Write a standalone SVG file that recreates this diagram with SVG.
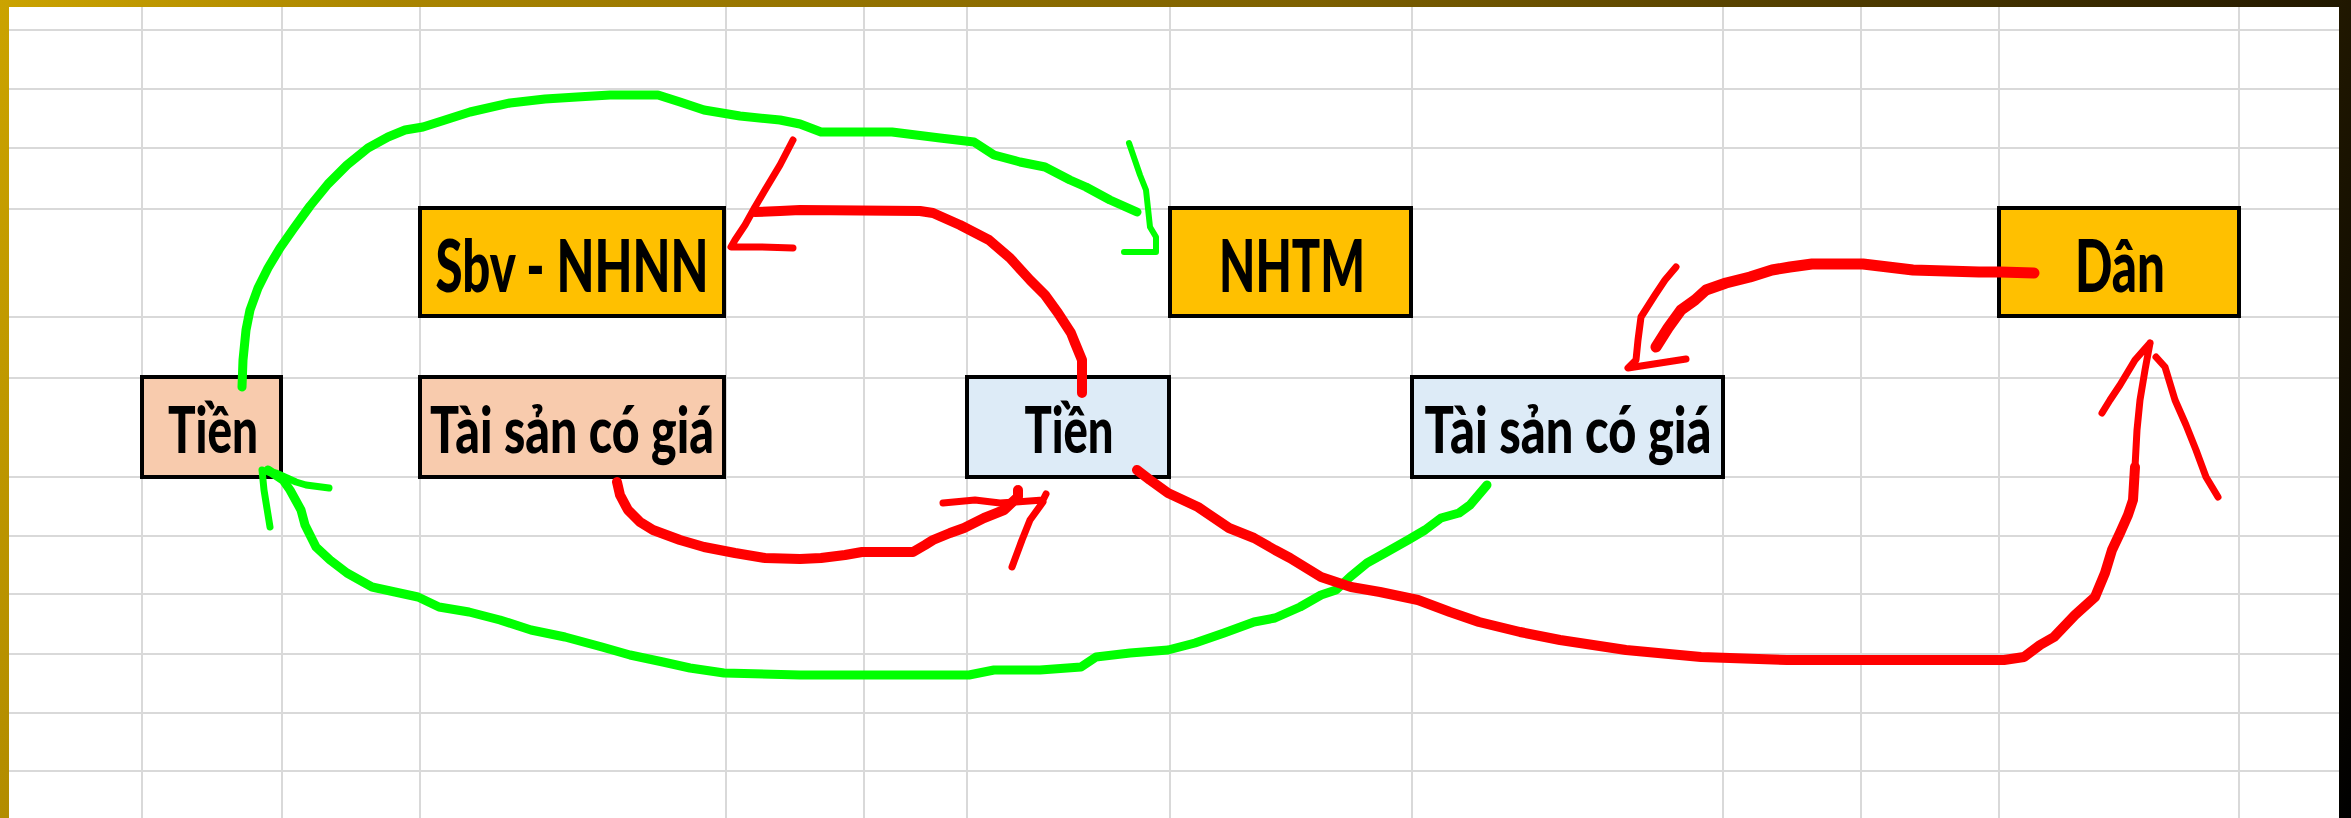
<svg xmlns="http://www.w3.org/2000/svg" width="2351" height="818" viewBox="0 0 2351 818">
<defs>
<linearGradient id="frame" gradientUnits="userSpaceOnUse" x1="0" y1="0" x2="2351" y2="818">
<stop offset="0" stop-color="#cba300"/>
<stop offset="0.15" stop-color="#a98400"/>
<stop offset="0.5" stop-color="#7d6000"/>
<stop offset="0.85" stop-color="#2c2000"/>
<stop offset="1" stop-color="#000000"/>
</linearGradient>
<style>
.grid{stroke:#d9d9d9;stroke-width:2;fill:none}
.box{stroke:#000;stroke-width:4}
.gold{fill:#ffc000}
.peach{fill:#f8cbad}
.blue{fill:#ddebf7}
.lbl{font-family:Lato,"Open Sans","Liberation Sans",sans-serif;font-weight:900;fill:#000;text-anchor:middle}
.big{font-size:73px}
.small{font-size:65px}
.g{stroke:#00ff00;fill:none;stroke-linecap:round;stroke-linejoin:round}
.r{stroke:#ff0000;fill:none;stroke-linecap:round;stroke-linejoin:round}
</style>
</defs>
<rect x="0" y="0" width="2351" height="818" fill="url(#frame)"/>
<rect x="9" y="7" width="2330" height="811" fill="#ffffff"/>
<path class="grid" d="M9,30H2339M9,89H2339M9,148H2339M9,209H2339M9,317H2339M9,378H2339M9,477H2339M9,536H2339M9,594H2339M9,654H2339M9,713H2339M9,771H2339
M142,7V818M282,7V818M420,7V818M726,7V818M864,7V818M967,7V818M1170,7V818M1412,7V818M1723,7V818M1861,7V818M1999,7V818M2239,7V818"/>

<g id="node-sbv">
<rect class="box gold" x="420" y="208" width="304" height="108"/>
<text class="lbl big" x="572" y="292" textLength="273" lengthAdjust="spacingAndGlyphs">Sbv - NHNN</text>
</g>
<g id="node-nhtm">
<rect class="box gold" x="1170" y="208" width="241" height="108"/>
<text class="lbl big" x="1292" y="292" textLength="146" lengthAdjust="spacingAndGlyphs">NHTM</text>
</g>
<g id="node-dan">
<rect class="box gold" x="1999" y="208" width="240" height="108"/>
<text class="lbl big" x="2120" y="292" textLength="90" lengthAdjust="spacingAndGlyphs">Dân</text>
</g>
<g id="node-tien-left">
<rect class="box peach" x="142" y="377" width="139" height="100"/>
<text class="lbl small" x="213" y="453" textLength="90" lengthAdjust="spacingAndGlyphs">Tiền</text>
</g>
<g id="node-tsco-left">
<rect class="box peach" x="420" y="377" width="304" height="100"/>
<text class="lbl small" x="572" y="453" textLength="284" lengthAdjust="spacingAndGlyphs">Tài sản có giá</text>
</g>
<g id="node-tien-mid">
<rect class="box blue" x="967" y="377" width="202" height="100"/>
<text class="lbl small" x="1069" y="453" textLength="89" lengthAdjust="spacingAndGlyphs">Tiền</text>
</g>
<g id="node-tsco-right">
<rect class="box blue" x="1412" y="377" width="311" height="100"/>
<text class="lbl small" x="1568" y="453" textLength="287" lengthAdjust="spacingAndGlyphs">Tài sản có giá</text>
</g>

<g id="connectors">
<path class="g" stroke-width="9" d="M242,387 L243,360 L246,330 L250,310 L258,288 L268,268 L280,248 L294,228 L310,206 L328,184 L347,165 L368,148 L388,137 L405,130 L423,127 L445,120 L470,112 L510,103 L545,99 L577,97 L610,95 L658,95 L680,102 L704,110 L740,116 L780,120 L800,124 L821,132 L892,132 L940,138 L974,142 L994,155 L1020,162 L1045,167 L1070,180 L1086,187 L1110,200 L1137,212"/>
<path class="g" stroke-width="6" d="M1129,143 L1140,175 L1146,190 L1150,227 L1156,237 L1156,252 L1124,252"/>
<path class="g" stroke-width="9" d="M1487,485 L1470,505 L1459,513 L1441,518 L1425,530 L1408,540 L1385,553 L1367,563 L1350,577 L1336,590 L1321,595 L1300,607 L1275,618 L1254,622 L1224,633 L1195,643 L1168,650 L1130,653 L1096,657 L1081,667 L1040,670 L994,670 L969,675 L900,675 L800,675 L724,673 L690,668 L663,662 L630,655 L602,647 L565,637 L531,630 L500,620 L469,612 L439,607 L418,597 L395,592 L372,587 L347,573 L330,560 L316,547 L305,525 L301,510 L290,490 L283,480 L268,470"/>
<path class="g" stroke-width="7" d="M262,470 L264,490 L270,527 M268,472 L276,473 L296,482 L306,485 L329,488"/>
<path class="r" stroke-width="10" d="M1082,393 L1082,360 L1075,343 L1071,333 L1058,313 L1045,295 L1030,280 L1010,258 L989,240 L960,225 L933,213 L920,211 L800,210 L780,211 L755,212"/>
<path class="r" stroke-width="7" d="M793,140 L780,165 L765,190 L755,207 L745,225 L735,240 L731,247 L760,247 L793,248"/>
<path class="r" stroke-width="10" d="M617,482 L620,495 L628,510 L640,522 L653,530 L680,540 L704,547 L735,553 L765,558 L800,559 L821,558 L845,555 L862,552 L913,552 L925,545 L933,540 L950,533 L964,528 L984,518 L1004,510 L1018,497 L1018,490"/>
<path class="r" stroke-width="7" d="M943,503 L975,500 L1000,503 L1043,500 L1046,494 M1043,502 L1030,520 L1022,540 L1012,567"/>
<path class="r" stroke-width="10" d="M1137,470 L1150,480 L1168,493 L1198,507 L1229,528 L1254,538 L1275,550 L1290,558 L1321,577 L1351,587 L1380,592 L1418,600 L1450,612 L1479,622 L1520,632 L1560,640 L1626,650 L1701,657 L1787,660 L2004,660 L2024,657 L2040,645 L2054,637 L2075,615 L2095,597 L2105,573 L2112,550 L2120,533 L2128,515 L2133,500 L2135,467"/>
<path class="r" stroke-width="7" d="M2135,467 L2137,430 L2140,400 L2145,370 L2150,343 M2150,343 L2135,360 L2120,385 L2110,400 L2102,413 M2156,357 L2165,367 L2175,400 L2186,425 L2196,450 L2206,477 L2212,487 L2218,497"/>
<path class="r" stroke-width="11" d="M2034,273 L2000,272 L1979,272 L1913,270 L1863,264 L1812,264 L1790,267 L1772,270 L1750,277 L1726,283 L1706,290 L1695,300 L1681,310 L1668,328 L1656,347"/>
<path class="r" stroke-width="7" d="M1676,267 L1665,280 L1655,295 L1641,317 L1638,340 L1636,360 L1628,368 L1686,359"/>
</g>
</svg>
